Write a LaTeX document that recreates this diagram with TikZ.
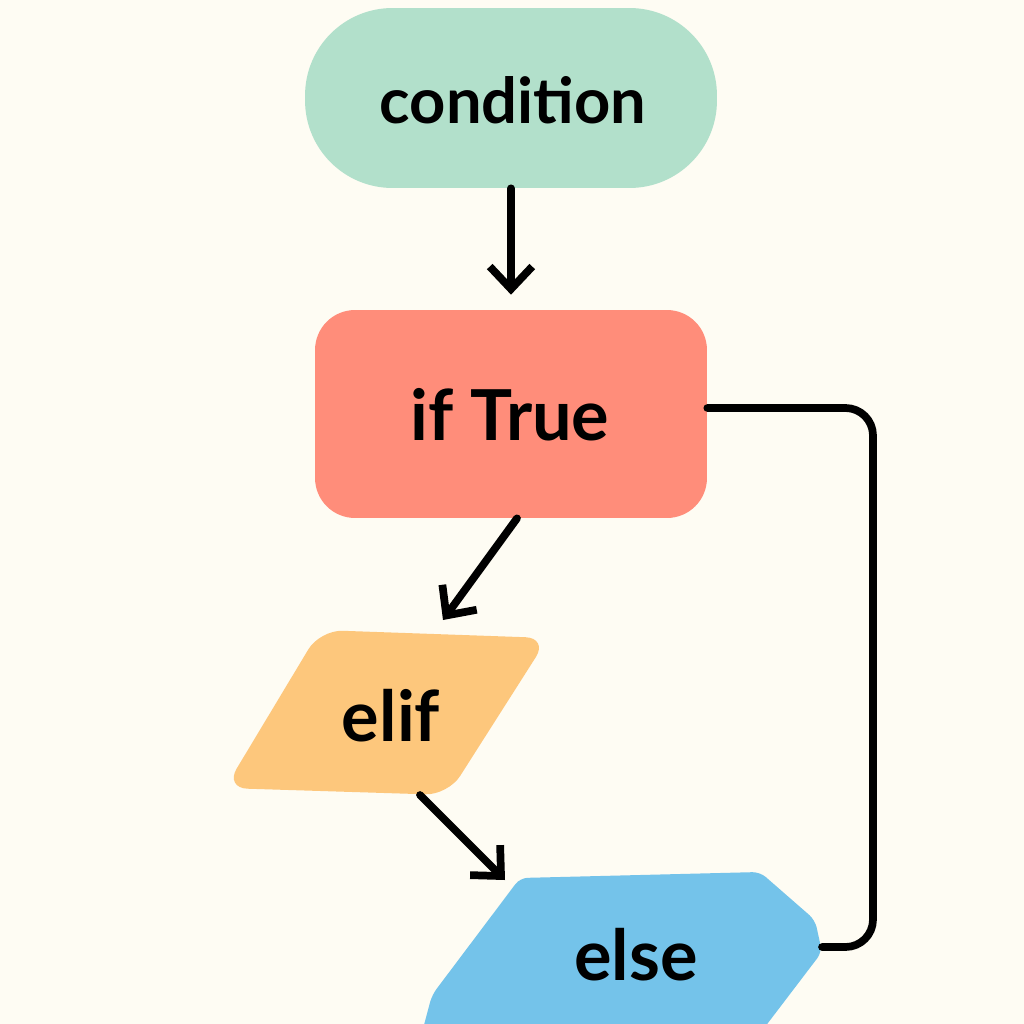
\documentclass[tikz,border=0pt]{standalone}
\usepackage{fontspec}
\setmainfont{Lato}
\usetikzlibrary{arrows.meta}
\definecolor{bg}{HTML}{FEFCF3}
\definecolor{cmint}{HTML}{B2E0CB}
\definecolor{csalmon}{HTML}{FF8D7A}
\definecolor{corange}{HTML}{FDC77C}
\definecolor{cblue}{HTML}{74C3EA}
\tikzset{
  lbl/.style={font=\bfseries\fontsize{36}{40}\selectfont, text=black, inner sep=0pt},
  lblbig/.style={lbl, font=\bfseries\fontsize{40}{44}\selectfont},
  conn/.style={line width=4.4pt, black, line cap=round, line join=round},
  arr/.style={conn, -{Straight Barb[length=4.5mm, width=8.5mm, line width=4.4pt]}},
}
\begin{document}
\begin{tikzpicture}[x=0.02cm, y=-0.02cm]
\fill[bg] (0,0) rectangle (1024,1024);
\useasboundingbox (0,0) rectangle (1024,1024);
\clip (0,0) rectangle (1024,1024);

% condition
\node[fill=cmint, minimum width=8.24cm, minimum height=3.6cm, rounded corners=1.75cm, inner sep=0pt] (cond) at (511,98) {};
\node[lbl] (condt) at (513,100) {condition};

% if True
\node[fill=csalmon, minimum width=7.84cm, minimum height=4.16cm, rounded corners=0.8cm, inner sep=0pt] (iftrue) at (511,414) {};
\node[lblbig] (iftruet) at (510,415) {if True};

% elif
\fill[corange, rounded corners=0.45cm] (320,630) -- (548,638) -- (448,795) -- (225,788) -- cycle;
\node[lblbig] (elif) at (391,716) {elif};
\coordinate (elifin) at (443,620);
\coordinate (elifout) at (420,795);

% else
\fill[cblue, rounded corners=0.15cm] (520,878) -- (760,872) -- (815,920) -- (822,952) -- (755,1040) -- (420,1040) -- (432,995) -- cycle;
\node[lblbig] (else) at (636,955) {else};
\coordinate (elsein) at (505,880);
\coordinate (elseright) at (822,947);

% connectors
\draw[arr] (cond.south) -- ([yshift=0.3cm]iftrue.north);
\draw[arr] ([xshift=0.12cm]iftrue.south) -- (elifin);
\draw[arr] (elifout) -- (elsein);
\draw[conn, rounded corners=0.55cm] ([yshift=0.12cm]iftrue.east) -- (873,408) -- (873,947) -- (elseright);
\end{tikzpicture}
\end{document}
